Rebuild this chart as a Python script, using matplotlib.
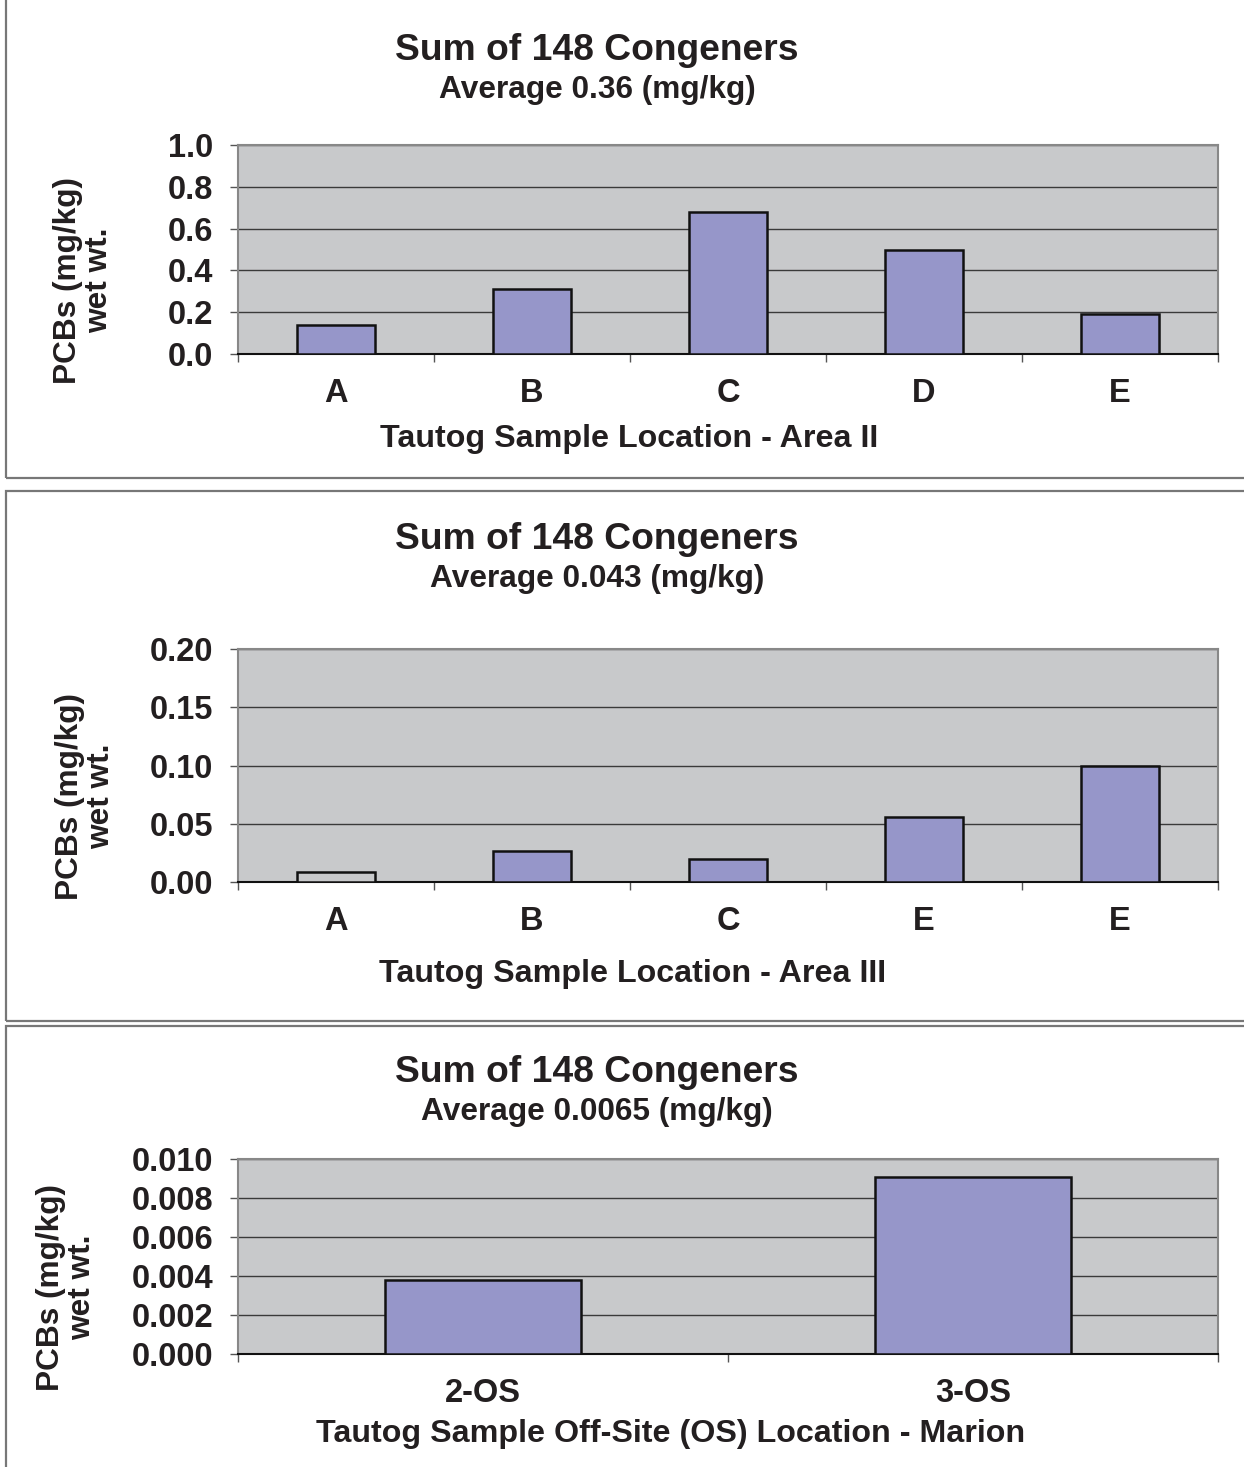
import numpy as np
import matplotlib
matplotlib.use("Agg")
import matplotlib.pyplot as plt
from matplotlib.patches import Rectangle

plt.rcParams['font.family'] = ['Liberation Sans', 'DejaVu Sans']
plt.rcParams['font.weight'] = 'bold'

# data
area2_locs = ['A', 'B', 'C', 'D', 'E']
area2_pcb = [0.14, 0.31, 0.68, 0.50, 0.19]
area3_locs = ['A', 'B', 'C', 'E', 'E']
area3_pcb = [0.009, 0.027, 0.020, 0.056, 0.100]
marion_locs = ['2-OS', '3-OS']
marion_pcb = [0.0038, 0.0091]

W, H = 1244, 1467
TXT = '#231F20'
BAR = '#9696C9'
BG = '#C8C9CB'

fig = plt.figure(figsize=(W / 100, H / 100), dpi=100)


def fx(px):
    return px / W


def fy(py):
    return 1 - py / H


def panel(top, bottom, locs, vals, yticks, fmt, colors, title_y, avg, xlab, xlab_x, xlab_y, ylab_x):
    ax = fig.add_axes([fx(238), fy(bottom), fx(1218) - fx(238), fy(top) - fy(bottom)])
    n = len(locs)
    x = np.arange(n) + 0.5
    ax.bar(x, vals, width=0.4, color=colors, edgecolor='#111111', linewidth=1.8, zorder=3)
    ax.set_xlim(0, n)
    ax.set_ylim(yticks[0], yticks[-1])
    ax.set_yticks(yticks)
    ax.set_yticklabels([fmt % t for t in yticks])
    ax.set_xticks(np.arange(n + 1))
    ax.set_xticklabels([])
    ax.set_xticks(x, minor=True)
    ax.set_xticklabels(locs, minor=True)
    ax.tick_params(axis='x', which='minor', length=0, pad=17.5, labelsize=23.5, labelcolor=TXT)
    ax.tick_params(axis='x', which='major', length=6, width=1, color='#555555')
    ax.tick_params(axis='y', length=6, width=1, color='#555555', pad=12, labelsize=23.5, labelcolor=TXT)
    ax.set_facecolor(BG)
    ax.grid(axis='y', color='#3a3a3a', linewidth=1)
    ax.set_axisbelow(True)
    for s in ['top', 'right', 'left']:
        ax.spines[s].set_color('#888888')
        ax.spines[s].set_linewidth(1.5)
    ax.spines['bottom'].set_color('#111111')
    ax.spines['bottom'].set_linewidth(1.5)

    fig.text(fx(597), fy(title_y + 3), 'Sum of 148 Congeners', ha='center', va='center',
             fontsize=26.8, color=TXT)
    fig.text(fx(597), fy(title_y + 43), avg, ha='center', va='center', fontsize=22.8, color=TXT)
    fig.text(fx(xlab_x), fy(xlab_y + 3), xlab, ha='center', va='center', fontsize=23.2, color=TXT)
    fig.text(fx(ylab_x), fy((top + bottom) / 2 + 31), 'PCBs (mg/kg)\nwet wt.', rotation=90,
             ha='center', va='center', multialignment='center', linespacing=1.05,
             fontsize=22.8, color=TXT)
    return ax


panel(145, 354, area2_locs, area2_pcb, [0.0, 0.2, 0.4, 0.6, 0.8, 1.0], '%.1f',
      [BAR] * 5, 47, 'Average 0.36 (mg/kg)', 'Tautog Sample Location - Area II', 629, 436, 84)
panel(649, 882, area3_locs, area3_pcb, [0.0, 0.05, 0.10, 0.15, 0.20], '%.2f',
      [BG] + [BAR] * 4, 536, 'Average 0.043 (mg/kg)', 'Tautog Sample Location - Area III', 633, 971, 86)
panel(1159, 1354, marion_locs, marion_pcb, [0.0, 0.002, 0.004, 0.006, 0.008, 0.010], '%.3f',
      [BAR] * 2, 1069, 'Average 0.0065 (mg/kg)', 'Tautog Sample Off-Site (OS) Location - Marion',
      671, 1431, 67)

# panel frames
for y0, y1 in [(-10, 478), (491, 1021), (1026, 1480)]:
    fig.patches.append(Rectangle((fx(6), fy(y1)), fx(1260) - fx(6), fy(y0) - fy(y1),
                                 transform=fig.transFigure, fill=False,
                                 edgecolor='#777777', linewidth=1.6, clip_on=False))

fig.savefig('out.png', dpi=100)
